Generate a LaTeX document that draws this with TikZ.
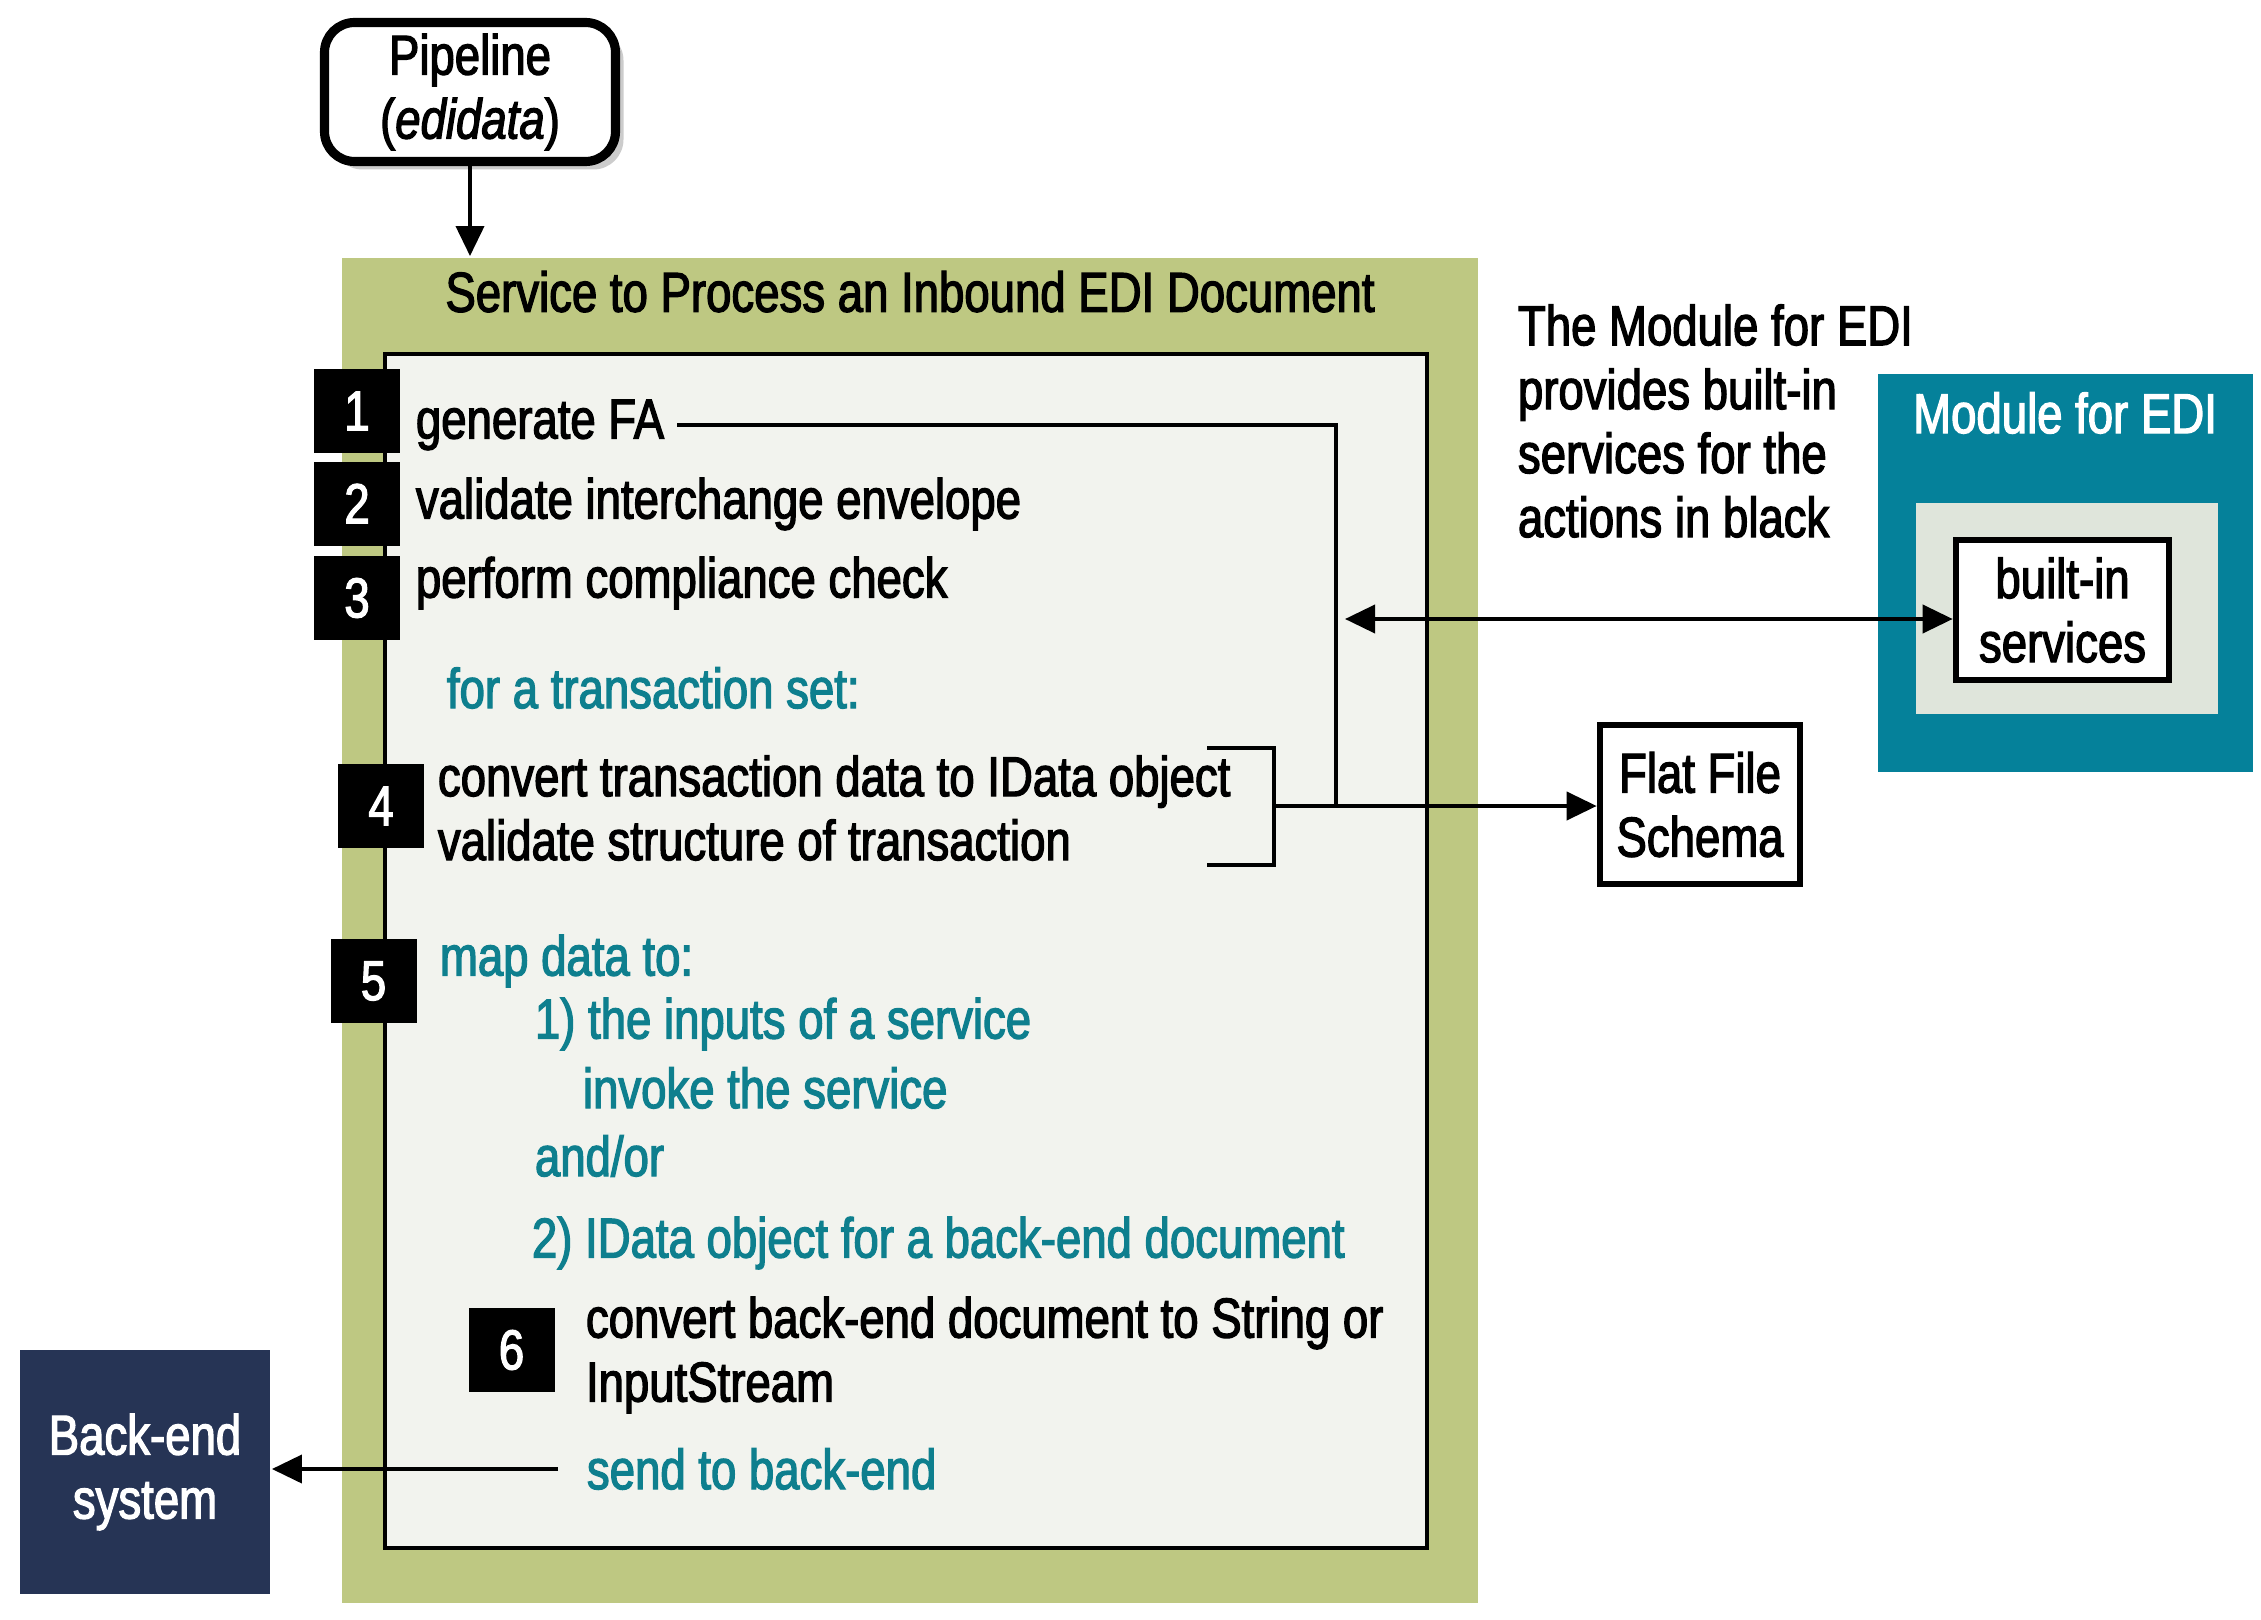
\documentclass[tikz,border=0pt]{standalone}
\usepackage{fontspec}
\setmainfont{Liberation Sans}[FakeStretch=0.81,FakeBold=2.2]
\usetikzlibrary{arrows.meta,positioning,shadows}
\definecolor{svcgreen}{RGB}{190,200,130}
\definecolor{svcpaper}{RGB}{242,243,238}
\definecolor{tealtext}{RGB}{14,127,142}
\definecolor{modteal}{RGB}{5,129,154}
\definecolor{modpale}{RGB}{223,229,219}
\definecolor{backnavy}{RGB}{38,52,85}

\begin{document}
\begin{tikzpicture}[>={Triangle[length=0.3cm,width=0.28cm]},line width=1.1pt,
    font=\fontsize{16}{18.2}\selectfont,
    badge/.style={fill=black,text=white,minimum width=0.86cm,minimum height=0.84cm,inner sep=0pt},
    act/.style={anchor=west,inner sep=0pt,align=left},
    note/.style={act,text=tealtext},
    heavy/.style={draw,line width=1.9pt,fill=white,align=center,inner sep=0pt}]

    \useasboundingbox (0,0) rectangle (22.61,-16.20);

    \node[heavy, line width=2.6pt, rounded corners=0.3cm, minimum width=2.91cm, minimum height=1.39cm,
          drop shadow={shadow xshift=0.08cm,shadow yshift=-0.08cm,opacity=0.4}] (pipe) at (4.70,-0.92) {Pipeline\\(\textit{edidata})};

    \node[fill=svcgreen, minimum width=11.36cm, minimum height=13.45cm, inner sep=0pt] (svc) at (9.10,-9.305) {};
    \node[draw, fill=svcpaper, minimum width=10.42cm, minimum height=11.94cm, inner sep=0pt] (inner) at (9.06,-9.51) {};
    \node[inner sep=0pt] (title) [below=0.13cm of svc.north] {Service to Process an Inbound EDI Document};

    \node[badge] (b1) at (3.57,-4.11) {1};
    \node[badge] (b2) at (3.57,-5.035) {2};
    \node[badge] (b3) at (3.57,-5.98) {3};
    \node[badge] (b4) at (3.81,-8.06) {4};
    \node[badge] (b5) at (3.735,-9.81) {5};
    \node[badge] (b6) at (5.115,-13.50) {6};

    \node[act] (genfa) at (4.14,-4.25) {generate FA};
    \node[act] (valenv) at (4.14,-5.04) {validate interchange envelope};
    \node[act] (compl) at (4.14,-5.83) {perform compliance check};
    \node[note] (forset) at (4.45,-6.88) {for a transaction set:};
    \node[act] (conv4) at (4.36,-8.08) {convert transaction data to IData object\\validate structure of transaction};
    \node[note] (mapto) at (4.38,-9.61) {map data to:};
    \node[note] (inputs) at (5.33,-10.24) {1) the inputs of a service};
    \node[note] (invoke) at (5.81,-10.88) {invoke the service};
    \node[note] (andor) at (5.33,-11.56) {and/or};
    \node[note] (idata2) at (5.30,-12.43) {2) IData object for a back-end document};
    \node[act] (conv6) at (5.84,-13.55) {convert back-end document to String or\\InputStream};
    \node[note] (sendbe) at (5.85,-14.69) {send to back-end};

    \node[heavy, minimum width=2.0cm, minimum height=1.59cm] (flat) at (17.00,-8.045) {Flat File\\Schema};

    \node[act] (about) at (15.16,-4.21) {The Module for EDI\\provides built-in\\services for the\\actions in black};

    \node[fill=modteal, minimum width=3.75cm, minimum height=3.98cm, inner sep=0pt] (module) at (20.655,-5.73) {};
    \node[text=white, inner sep=0pt] (modtitle) at (20.65,-4.13) {Module for EDI};
    \node[fill=modpale, minimum width=3.02cm, minimum height=2.11cm, inner sep=0pt] (modin) at (20.67,-6.085) {};
    \node[heavy, minimum width=2.13cm, minimum height=1.40cm] (builtin) at (20.625,-6.10) {built-in\\services};

    \node[fill=backnavy, text=white, align=center, minimum width=2.5cm, minimum height=2.44cm] (backend) at (1.45,-14.72) {Back-end\\system};

    \coordinate (join) at (13.36,-8.06);
    \coordinate (brk) at (12.74,-8.06);
    \coordinate (tap) at (13.45,-6.19);

    \draw[->] (pipe.south) -- (pipe.south |- svc.north);
    \draw[-] ([xshift=0.11cm]genfa.east) -| (join);
    \draw[-] (12.07,-7.48) -- (12.74,-7.48) -- (12.74,-8.65) -- (12.07,-8.65);
    \draw[->] (brk) -- (brk -| flat.west);
    \draw[<->] (tap) -- (tap -| builtin.west);
    % send the document out to the back end
    \draw[->] ([xshift=-0.27cm]sendbe.west) -- (sendbe.west -| backend.east);
\end{tikzpicture}
\end{document}
